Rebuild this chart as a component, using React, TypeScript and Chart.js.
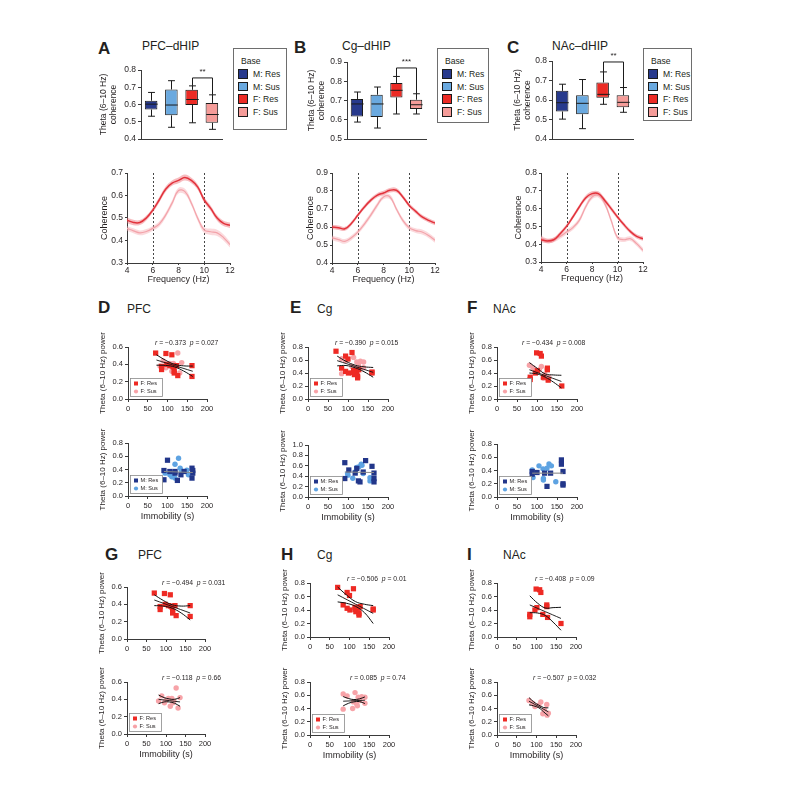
import React, { useEffect, useRef } from 'react';
import { Chart, registerables } from 'chart.js';

Chart.register(...registerables);

const FONT = '"Liberation Sans", Arial, Helvetica, sans-serif';
const TXT = '#231f20';
const AX = '#3a3a3a';

// ===== Groups =====
const groupLabels = ['M: Res', 'M: Sus', 'F: Res', 'F: Sus'];
const groupColors = ['#283a8d', '#6aa9df', '#ec2b25', '#f59c99'];
const pointColors = ['#22368a', '#5ea3e2', '#ee2a24', '#f7a3a8'];

// ===== Box plots: [min, q1, median, q3, max] =====
const boxPFC = [
  [0.532, 0.571, 0.602, 0.622, 0.670],
  [0.468, 0.537, 0.597, 0.687, 0.738],
  [0.494, 0.597, 0.629, 0.685, 0.708],
  [0.456, 0.494, 0.542, 0.609, 0.656],
];
const boxCg = [
  [0.588, 0.617, 0.682, 0.708, 0.744],
  [0.557, 0.614, 0.682, 0.730, 0.770],
  [0.630, 0.716, 0.753, 0.791, 0.825],
  [0.630, 0.656, 0.678, 0.704, 0.735],
];
const boxNAc = [
  [0.502, 0.541, 0.586, 0.647, 0.681],
  [0.453, 0.527, 0.583, 0.625, 0.705],
  [0.578, 0.612, 0.629, 0.690, 0.744],
  [0.537, 0.563, 0.588, 0.625, 0.664],
];
const boxRangePFC = [0.4, 0.8];
const boxRangeCg = [0.5, 0.9];
const boxRangeNAc = [0.4, 0.8];
// significance brackets: [bracket level, left leg end, right leg end, star level]
const sigPFC = [0.754, 0.708, 0.656, 0.788];
const sigCg = [0.869, 0.825, 0.735, 0.900];
const sigNAc = [0.795, 0.744, 0.664, 0.826];
const starsPFC = '**';
const starsCg = '***';
const starsNAc = '**';

// ===== Coherence spectra =====
const freqs = [4, 4.5, 5, 5.5, 6, 6.5, 7, 7.5, 8, 8.5, 9, 9.5, 10, 10.5, 11, 11.5, 12];
const bandEdges = [6, 10];
const cohPFC_FRes = [0.49, 0.48, 0.48, 0.50, 0.535, 0.58, 0.628, 0.655, 0.667, 0.68, 0.667, 0.637, 0.58, 0.543, 0.50, 0.476, 0.468];
const cohPFC_FSus = [0.454, 0.443, 0.434, 0.44, 0.454, 0.473, 0.513, 0.566, 0.622, 0.617, 0.566, 0.498, 0.446, 0.439, 0.434, 0.413, 0.382];
const semPFC_FRes = [0.012, 0.012, 0.011, 0.011, 0.011, 0.012, 0.012, 0.012, 0.013, 0.013, 0.012, 0.012, 0.012, 0.012, 0.012, 0.012, 0.012];
const semPFC_FSus = [0.011, 0.011, 0.011, 0.011, 0.011, 0.012, 0.012, 0.013, 0.013, 0.013, 0.012, 0.012, 0.013, 0.014, 0.014, 0.014, 0.013];
const cohCg_FRes = [0.60, 0.596, 0.59, 0.62, 0.665, 0.71, 0.748, 0.776, 0.789, 0.804, 0.804, 0.767, 0.72, 0.687, 0.656, 0.637, 0.622];
const cohCg_FSus = [0.54, 0.53, 0.52, 0.54, 0.572, 0.615, 0.665, 0.72, 0.767, 0.767, 0.70, 0.637, 0.596, 0.58, 0.572, 0.553, 0.526];
const semCg_FRes = [0.012, 0.012, 0.011, 0.011, 0.011, 0.012, 0.012, 0.012, 0.012, 0.013, 0.013, 0.012, 0.012, 0.012, 0.012, 0.012, 0.012];
const semCg_FSus = [0.013, 0.013, 0.013, 0.013, 0.013, 0.014, 0.014, 0.014, 0.013, 0.013, 0.013, 0.013, 0.013, 0.013, 0.014, 0.014, 0.014];
const cohNAc_FRes = [0.425, 0.418, 0.425, 0.459, 0.50, 0.553, 0.609, 0.66, 0.684, 0.684, 0.646, 0.60, 0.553, 0.51, 0.472, 0.444, 0.431];
const cohNAc_FSus = [0.437, 0.418, 0.425, 0.444, 0.468, 0.493, 0.534, 0.609, 0.665, 0.675, 0.628, 0.534, 0.437, 0.425, 0.431, 0.403, 0.366];
const semNAc_FRes = [0.012, 0.012, 0.012, 0.012, 0.012, 0.012, 0.012, 0.013, 0.013, 0.013, 0.013, 0.013, 0.012, 0.012, 0.012, 0.012, 0.012];
const semNAc_FSus = [0.013, 0.013, 0.013, 0.013, 0.013, 0.013, 0.014, 0.014, 0.014, 0.014, 0.014, 0.014, 0.013, 0.013, 0.013, 0.013, 0.013];

// ===== Scatter: [immobility (s), theta power] =====
const pfcFRes = [[70, 0.53], [96, 0.525], [111, 0.51], [85, 0.375], [85, 0.34], [98, 0.40], [106, 0.385], [112, 0.38], [115, 0.37], [117, 0.32], [117, 0.30], [123, 0.385], [126, 0.27], [162, 0.385], [162, 0.26]];
const pfcFSus = [[81, 0.38], [89, 0.44], [96, 0.36], [100, 0.39], [106, 0.41], [111, 0.32], [115, 0.41], [118, 0.36], [120, 0.38], [126, 0.53], [131, 0.30], [136, 0.42]];
const cgFRes = [[70, 0.735], [94, 0.66], [100, 0.615], [110, 0.715], [84, 0.475], [94, 0.425], [101, 0.40], [114, 0.44], [116, 0.375], [122, 0.425], [124, 0.325], [127, 0.45], [160, 0.415], [160, 0.40], [114, 0.41], [124, 0.35]];
const cgFSus = [[84, 0.62], [94, 0.59], [114, 0.64], [122, 0.57], [131, 0.58], [139, 0.57], [139, 0.48], [126, 0.52], [110, 0.50], [118, 0.47], [84, 0.39], [108, 0.40], [120, 0.44]];
const nacFRes = [[99, 0.71], [108, 0.70], [111, 0.66], [83, 0.335], [83, 0.30], [96, 0.40], [101, 0.435], [116, 0.335], [126, 0.475], [126, 0.45], [128, 0.29], [162, 0.20]];
const nacFSus = [[81, 0.52], [90, 0.48], [96, 0.43], [106, 0.45], [111, 0.50], [116, 0.32], [120, 0.38], [126, 0.46], [127, 0.30], [130, 0.33]];
const pfcMRes = [[91, 0.385], [91, 0.245], [100, 0.54], [106, 0.37], [119, 0.345], [119, 0.37], [125, 0.235], [134, 0.32], [142, 0.37], [162, 0.42], [162, 0.27], [164, 0.345], [164, 0.385]];
const pfcMSus = [[94, 0.345], [106, 0.32], [111, 0.29], [115, 0.345], [119, 0.48], [119, 0.27], [128, 0.57], [132, 0.42], [136, 0.38], [149, 0.39], [153, 0.32]];
const cgMRes = [[92, 0.66], [92, 0.355], [102, 0.52], [118, 0.46], [122, 0.55], [126, 0.31], [130, 0.29], [138, 0.48], [144, 0.70], [160, 0.59], [165, 0.46], [165, 0.355], [165, 0.29]];
const cgMSus = [[99, 0.45], [100, 0.42], [112, 0.36], [118, 0.48], [122, 0.57], [127, 0.58], [133, 0.63], [135, 0.61], [138, 0.45], [155, 0.37], [155, 0.31]];
const nacMRes = [[88, 0.385], [88, 0.345], [100, 0.37], [119, 0.36], [125, 0.16], [134, 0.36], [161, 0.56], [161, 0.495], [165, 0.385], [165, 0.20], [165, 0.18]];
const nacMSus = [[88, 0.41], [90, 0.295], [105, 0.47], [115, 0.425], [116, 0.28], [116, 0.255], [125, 0.435], [130, 0.50], [136, 0.47], [147, 0.23]];

// regression lines (mid) and 95% confidence curves (up / lo)
const fitD_mid = [[72, 0.45], [164, 0.32]];
const fitD_up = [[72, 0.51], [95, 0.4475], [118, 0.40], [141, 0.3825], [164, 0.38]];
const fitD_lo = [[72, 0.39], [95, 0.3875], [118, 0.37], [141, 0.3225], [164, 0.26]];
const fitE_mid = [[73, 0.59], [163, 0.41]];
const fitE_up = [[73, 0.66], [95, 0.58], [118, 0.52], [140, 0.495], [163, 0.485]];
const fitE_lo = [[73, 0.51], [95, 0.515], [118, 0.48], [140, 0.42], [163, 0.335]];
const fitF_mid = [[81, 0.45], [161, 0.27]];
const fitF_up = [[81, 0.56], [101, 0.47], [121, 0.385], [141, 0.37], [161, 0.365]];
const fitF_lo = [[81, 0.40], [101, 0.385], [121, 0.335], [141, 0.26], [161, 0.17]];
const fitGt_mid = [[70, 0.45], [162, 0.30]];
const fitGt_up = [[70, 0.51], [93, 0.445], [116, 0.395], [139, 0.38], [162, 0.385]];
const fitGt_lo = [[70, 0.385], [93, 0.38], [116, 0.355], [139, 0.30], [162, 0.22]];
const fitHt_mid = [[70, 0.625], [160, 0.35]];
const fitHt_up = [[70, 0.74], [92, 0.625], [115, 0.525], [138, 0.485], [160, 0.465]];
const fitHt_lo = [[70, 0.52], [92, 0.50], [115, 0.455], [138, 0.36], [160, 0.20]];
const fitIt_mid = [[83, 0.475], [162, 0.275]];
const fitIt_up = [[83, 0.61], [103, 0.50], [122, 0.43], [142, 0.435], [162, 0.44]];
const fitIt_lo = [[83, 0.36], [103, 0.355], [122, 0.32], [142, 0.22], [162, 0.10]];
const fitGb_mid = [[81, 0.40], [136, 0.37]];
const fitGb_up = [[81, 0.45], [95, 0.42], [108, 0.405], [122, 0.40], [136, 0.42]];
const fitGb_lo = [[81, 0.35], [95, 0.37], [108, 0.37], [122, 0.355], [136, 0.32]];
const fitHb_mid = [[84, 0.51], [139, 0.525]];
const fitHb_up = [[84, 0.58], [98, 0.55], [111, 0.535], [125, 0.545], [139, 0.575]];
const fitHb_lo = [[84, 0.44], [98, 0.48], [111, 0.50], [125, 0.505], [139, 0.475]];
const fitIb_mid = [[81, 0.51], [130, 0.35]];
const fitIb_up = [[81, 0.565], [93, 0.50], [106, 0.45], [118, 0.415], [130, 0.41]];
const fitIb_lo = [[81, 0.455], [93, 0.44], [106, 0.41], [118, 0.35], [130, 0.29]];
const maleLinePFC = [[91, 0.37], [164, 0.355]];
const maleLineCg = [[92, 0.48], [165, 0.47]];
const maleLineNAc = [[88, 0.36], [165, 0.36]];

// r / p statistics
const statD = ['\u22120.373', '0.027'];
const statE = ['\u22120.390', '0.015'];
const statF = ['\u22120.434', '0.008'];
const statGt = ['\u22120.494', '0.031'];
const statGb = ['\u22120.118', '0.66'];
const statHt = ['\u22120.506', '0.01'];
const statHb = ['0.085', '0.74'];
const statIt = ['\u22120.408', '0.09'];
const statIb = ['\u22120.507', '0.032'];

// ===== helpers =====
type Frame = { x0: number; x1: number; y0: number; y1: number; L: number; T: number; R: number; B: number };

function canvasBox(f: Frame) {
  return { left: f.x0 - f.L, top: f.y0 - f.T, width: f.x1 - f.x0 + f.L + f.R, height: f.y1 - f.y0 + f.T + f.B };
}

function baseOptions(f: Frame) {
  return {
    responsive: false,
    animation: false,
    events: [],
    devicePixelRatio: 1,
    layout: { padding: { left: 0, top: f.T, right: f.R, bottom: 0 } },
    plugins: { legend: { display: false }, tooltip: { enabled: false }, title: { display: false } },
  };
}

function yLinear(f: Frame, min: number, max: number, step: number, title: any, o: any) {
  return {
    type: 'linear', position: 'left', min, max,
    afterFit: (s: any) => { s.width = f.L; },
    ticks: { stepSize: step, autoSkip: false, font: { family: FONT, size: o.tick }, color: TXT, padding: o.pad ?? 2, callback: (v: any) => Number(v).toFixed(1) },
    grid: { display: true, drawOnChartArea: false, drawTicks: true, tickLength: o.tickLen, color: AX, lineWidth: 1 },
    border: { display: true, color: AX, width: 1 },
    title: { display: !!title, text: title, color: TXT, padding: 0, font: { family: FONT, size: o.title, lineHeight: o.lh ?? 1.2 } },
  };
}

function xLinear(f: Frame, min: number, max: number, step: number, title: string | null, o: any) {
  return {
    type: 'linear', position: 'bottom', min, max,
    afterFit: (s: any) => { s.height = f.B; },
    ticks: { stepSize: step, autoSkip: false, maxRotation: 0, font: { family: FONT, size: o.tick }, color: TXT, padding: o.pad ?? 2, callback: (v: any) => String(v) },
    grid: { display: true, drawOnChartArea: false, drawTicks: true, tickLength: o.tickLen, color: AX, lineWidth: 1 },
    border: { display: true, color: AX, width: 1 },
    title: { display: !!title, text: title || '', color: TXT, padding: 0, font: { family: FONT, size: o.title, lineHeight: 1.2 } },
  };
}

function boxPlugin(stats: number[][], sig: number[], stars: string) {
  return {
    id: 'boxWhisk',
    afterDatasetsDraw(chart: any) {
      const { ctx } = chart;
      const ys = chart.scales.y;
      const meta = chart.getDatasetMeta(0);
      const line = (a: number, b: number, c: number, d: number) => { ctx.beginPath(); ctx.moveTo(a, b); ctx.lineTo(c, d); ctx.stroke(); };
      ctx.save();
      ctx.strokeStyle = '#1b1b1b';
      ctx.lineWidth = 1;
      stats.forEach((s, i) => {
        const bar = meta.data[i];
        const cx = Math.round(bar.x) + 0.5;
        const hw = bar.width / 2;
        const cap = hw * 0.55;
        const [mn, q1, md, q3, mx] = s.map((v) => ys.getPixelForValue(v));
        line(cx, q3, cx, mx); line(cx - cap, mx, cx + cap, mx);
        line(cx, q1, cx, mn); line(cx - cap, mn, cx + cap, mn);
        line(cx - hw, md, cx + hw, md);
      });
      const x1 = Math.round(meta.data[2].x) + 0.5;
      const x2 = Math.round(meta.data[3].x) + 0.5;
      const yb = ys.getPixelForValue(sig[0]);
      ctx.beginPath();
      ctx.moveTo(x1, ys.getPixelForValue(sig[1]));
      ctx.lineTo(x1, yb);
      ctx.lineTo(x2, yb);
      ctx.lineTo(x2, ys.getPixelForValue(sig[2]));
      ctx.stroke();
      ctx.fillStyle = TXT;
      ctx.font = `8px ${FONT}`;
      ctx.textAlign = 'center';
      ctx.textBaseline = 'middle';
      ctx.fillText(stars, (x1 + x2) / 2, ys.getPixelForValue(sig[3]));
      ctx.restore();
    },
  };
}

function boxConfig(f: Frame, stats: number[][], range: number[], sig: number[], stars: string) {
  return {
    type: 'bar',
    data: {
      labels: groupLabels,
      datasets: [{
        data: stats.map((s) => [s[1], s[3]]),
        backgroundColor: groupColors,
        borderColor: '#1b1b1b',
        borderWidth: 1,
        borderSkipped: false,
        barPercentage: 0.62,
        categoryPercentage: 1,
      }],
    },
    options: {
      ...baseOptions(f),
      scales: {
        x: { type: 'category', afterFit: (s: any) => { s.height = f.B; }, ticks: { display: false }, grid: { display: false }, border: { display: true, color: AX, width: 1 } },
        y: yLinear(f, range[0], range[1], 0.1, ['Theta (6\u201310 Hz)', 'coherence'], { tick: 8.5, tickLen: 3, title: 8.5, lh: 1.15 }),
      },
    },
    plugins: [boxPlugin(stats, sig, stars)],
  };
}

const vlinePlugin = {
  id: 'vlines',
  beforeDatasetsDraw(chart: any) {
    const { ctx, chartArea: a } = chart;
    const x = chart.scales.x;
    ctx.save();
    ctx.setLineDash([2, 2]);
    ctx.strokeStyle = '#333';
    ctx.lineWidth = 0.9;
    bandEdges.forEach((fr) => {
      const px = Math.round(x.getPixelForValue(fr)) + 0.5;
      ctx.beginPath(); ctx.moveTo(px, a.top); ctx.lineTo(px, a.bottom); ctx.stroke();
    });
    ctx.restore();
  },
};

function cohConfig(f: Frame, range: number[], dark: number[], light: number[], semD: number[], semL: number[]) {
  const pts = (arr: number[]) => freqs.map((x, i) => ({ x, y: arr[i] }));
  const up = (arr: number[], s: number[]) => freqs.map((x, i) => ({ x, y: arr[i] + s[i] }));
  const lo = (arr: number[], s: number[]) => freqs.map((x, i) => ({ x, y: arr[i] - s[i] }));
  const common = { pointRadius: 0, tension: 0.4 };
  return {
    type: 'line',
    data: {
      datasets: [
        { data: pts(dark), borderColor: '#e2323b', borderWidth: 1.5, fill: false, ...common },
        { data: pts(light), borderColor: '#f3a3aa', borderWidth: 1.2, fill: false, ...common },
        { data: up(dark, semD), borderColor: 'rgba(0,0,0,0)', borderWidth: 0, fill: false, ...common },
        { data: lo(dark, semD), borderColor: 'rgba(0,0,0,0)', borderWidth: 0, backgroundColor: 'rgba(236,96,106,0.42)', fill: '-1', ...common },
        { data: up(light, semL), borderColor: 'rgba(0,0,0,0)', borderWidth: 0, fill: false, ...common },
        { data: lo(light, semL), borderColor: 'rgba(0,0,0,0)', borderWidth: 0, backgroundColor: 'rgba(247,172,180,0.45)', fill: '-1', ...common },
      ],
    },
    options: {
      ...baseOptions(f),
      scales: {
        x: xLinear(f, 4, 12, 2, 'Frequency (Hz)', { tick: 8.5, tickLen: 2, title: 9, pad: 1 }),
        y: yLinear(f, range[0], range[1], 0.1, 'Coherence', { tick: 8.5, tickLen: 2, title: 9 }),
      },
    },
    plugins: [vlinePlugin],
  };
}

function statPlugin(stat: string[] | null, dx: number) {
  return {
    id: 'stat',
    afterDraw(chart: any) {
      if (!stat) return;
      const { ctx, chartArea: a } = chart;
      ctx.save();
      ctx.fillStyle = TXT;
      ctx.textBaseline = 'middle';
      let x = a.left + dx;
      const y = a.top - 4;
      const parts: [string, boolean][] = [['r', true], [` = ${stat[0]}  `, false], ['p', true], [` = ${stat[1]}`, false]];
      parts.forEach(([t, it]) => {
        ctx.font = `${it ? 'italic ' : ''}6.8px ${FONT}`;
        ctx.fillText(t, x, y);
        x += ctx.measureText(t).width;
      });
      ctx.restore();
    },
  };
}

function legendPlugin(items: number[] | null) {
  return {
    id: 'miniLegend',
    afterDraw(chart: any) {
      if (!items) return;
      const { ctx, chartArea: a } = chart;
      const w = 32, h = 18;
      const x = Math.round(a.left + 2) + 0.5, y = Math.round(a.bottom - h - 3) + 0.5;
      ctx.save();
      ctx.fillStyle = '#fff';
      ctx.fillRect(x, y, w, h);
      ctx.strokeStyle = '#8a8a8a';
      ctx.lineWidth = 0.8;
      ctx.strokeRect(x, y, w, h);
      items.forEach((g, k) => {
        const cy = y + 5 + k * 8;
        ctx.fillStyle = pointColors[g];
        if (g % 2 === 0) ctx.fillRect(x + 3.5, cy - 2, 4, 4);
        else { ctx.beginPath(); ctx.arc(x + 5.5, cy, 2.1, 0, Math.PI * 2); ctx.fill(); }
        ctx.fillStyle = TXT;
        ctx.font = `5.6px ${FONT}`;
        ctx.textBaseline = 'middle';
        ctx.fillText(groupLabels[g], x + 10, cy + 0.3);
      });
      ctx.restore();
    },
  };
}

type ScatterSpec = {
  ymax: number;
  series: [number[][], number][];
  fit?: number[][][];
  gray?: number[][];
  legend: number[] | null;
  stat: string[] | null;
  statDx: number;
  xTitle: boolean;
};

function scatterConfig(f: Frame, s: ScatterSpec) {
  const toXY = (arr: number[][]) => arr.map(([x, y]) => ({ x, y }));
  const lineDs: any[] = [];
  if (s.fit) {
    s.fit.forEach((curve, k) => {
      lineDs.push({ data: toXY(curve), showLine: true, pointRadius: 0, borderColor: '#111', borderWidth: k === 0 ? 0.9 : 1.0, tension: 0.4, fill: false });
    });
  }
  if (s.gray) {
    lineDs.push({ data: toXY(s.gray), showLine: true, pointRadius: 0, borderColor: '#8c8c8c', borderWidth: 1.1, fill: false });
  }
  const pointDs = s.series.map(([pts, g]) => ({
    data: toXY(pts),
    pointStyle: g % 2 === 0 ? 'rect' : 'circle',
    pointRadius: g % 2 === 0 ? 3.7 : 2.7,
    backgroundColor: pointColors[g],
    borderWidth: 0,
    showLine: false,
  }));
  return {
    type: 'scatter',
    data: { datasets: [...lineDs, ...pointDs] },
    options: {
      ...baseOptions(f),
      scales: {
        x: xLinear(f, 0, 200, 50, s.xTitle ? 'Immobility (s)' : null, { tick: 7.5, tickLen: 3, title: 9, pad: 2 }),
        y: yLinear(f, 0, s.ymax, 0.2, 'Theta (6\u201310 Hz) power', { tick: 7.5, tickLen: 3, title: 8 }),
      },
    },
    plugins: [statPlugin(s.stat, s.statDx), legendPlugin(s.legend)],
  };
}

function ChartCanvas({ frame, make }: { frame: Frame; make: () => any }) {
  const ref = useRef<HTMLCanvasElement>(null);
  const b = canvasBox(frame);
  useEffect(() => {
    const chart = new Chart(ref.current as HTMLCanvasElement, make());
    return () => chart.destroy();
  }, []);
  return (
    <canvas
      ref={ref}
      width={b.width}
      height={b.height}
      style={{ position: 'absolute', left: b.left, top: b.top, width: b.width, height: b.height }}
    />
  );
}

function Text({ x, baseline, size, bold, children }: { x: number; baseline: number; size: number; bold?: boolean; children: any }) {
  return (
    <div
      style={{
        position: 'absolute', left: x, top: baseline - 0.8465 * size, fontSize: size, lineHeight: `${size}px`,
        fontWeight: bold ? 700 : 400, fontFamily: FONT, color: TXT, whiteSpace: 'nowrap',
      }}
    >
      {children}
    </div>
  );
}

function BoxLegend({ left, top, width, height }: { left: number; top: number; width: number; height: number }) {
  const rowY = [25, 37.5, 50, 63];
  return (
    <div style={{ position: 'absolute', left, top, width, height, border: '1px solid #6e6e6e', boxSizing: 'border-box', background: '#fff', fontFamily: FONT, fontSize: 8.6, color: TXT }}>
      <div style={{ position: 'absolute', left: 7, top: 12 - 5, lineHeight: '10px', whiteSpace: 'nowrap' }}>Base</div>
      {groupLabels.map((g, i) => (
        <React.Fragment key={g}>
          <div style={{ position: 'absolute', left: 4, top: rowY[i] - 5, width: 10, height: 9.5, boxSizing: 'border-box', border: '1px solid #1b1b1b', background: groupColors[i] }} />
          <div style={{ position: 'absolute', left: 19, top: rowY[i] - 5, lineHeight: '10px', whiteSpace: 'nowrap' }}>{g}</div>
        </React.Fragment>
      ))}
    </div>
  );
}

// ===== frames (plot areas in page px) =====
const fBoxA: Frame = { x0: 141, x1: 222, y0: 70, y1: 139, L: 42, T: 30, R: 4, B: 8 };
const fBoxB: Frame = { x0: 347, x1: 426, y0: 62, y1: 139, L: 40, T: 30, R: 4, B: 8 };
const fBoxC: Frame = { x0: 552, x1: 633, y0: 61, y1: 139, L: 39, T: 30, R: 4, B: 8 };
const fLineA: Frame = { x0: 127, x1: 230, y0: 173, y1: 263, L: 28, T: 10, R: 10, B: 22 };
const fLineB: Frame = { x0: 332, x1: 435, y0: 173, y1: 263, L: 27, T: 10, R: 10, B: 22 };
const fLineC: Frame = { x0: 541, x1: 643, y0: 173, y1: 262, L: 28, T: 10, R: 10, B: 22 };
const sc = (x0: number, x1: number, y0: number, y1: number, title: boolean): Frame => ({ x0, x1, y0, y1, L: 30, T: 26, R: 30, B: title ? 26 : 30 });
const fDt = sc(128, 207, 347, 399, false);
const fDb = sc(128, 207, 443, 496, true);
const fEt = sc(308, 388, 347, 399, false);
const fEb = sc(308, 388, 445, 497, true);
const fFt = sc(497, 577, 347, 399, false);
const fFb = sc(497, 577, 444, 497, true);
const fGt = sc(127, 205, 587, 639, false);
const fGb = sc(127, 205, 682, 734, true);
const fHt = sc(310, 389, 583, 637, false);
const fHb = sc(310, 389, 682, 735, true);
const fIt = sc(497, 576, 583, 637, false);
const fIb = sc(497, 576, 682, 735, true);

export default function App() {
  return (
    <div style={{ position: 'absolute', left: 0, top: 0, width: 791, height: 792, background: '#fff', overflow: 'hidden' }}>
      <Text x={98} baseline={54} size={17} bold>A</Text>
      <Text x={142} baseline={50} size={12}>PFC–dHIP</Text>
      <Text x={294} baseline={53} size={17} bold>B</Text>
      <Text x={342} baseline={50} size={12}>Cg–dHIP</Text>
      <Text x={507} baseline={53} size={17} bold>C</Text>
      <Text x={552} baseline={50} size={12}>NAc–dHIP</Text>

      <Text x={98} baseline={313} size={17} bold>D</Text>
      <Text x={127} baseline={313} size={12}>PFC</Text>
      <Text x={290} baseline={313} size={17} bold>E</Text>
      <Text x={317} baseline={313} size={12}>Cg</Text>
      <Text x={467} baseline={313} size={17} bold>F</Text>
      <Text x={493} baseline={313} size={12}>NAc</Text>

      <Text x={105} baseline={560} size={17} bold>G</Text>
      <Text x={138} baseline={559} size={12}>PFC</Text>
      <Text x={281} baseline={560} size={17} bold>H</Text>
      <Text x={317} baseline={559} size={12}>Cg</Text>
      <Text x={467} baseline={560} size={17} bold>I</Text>
      <Text x={503} baseline={559} size={12}>NAc</Text>

      <ChartCanvas frame={fBoxA} make={() => boxConfig(fBoxA, boxPFC, boxRangePFC, sigPFC, starsPFC)} />
      <ChartCanvas frame={fBoxB} make={() => boxConfig(fBoxB, boxCg, boxRangeCg, sigCg, starsCg)} />
      <ChartCanvas frame={fBoxC} make={() => boxConfig(fBoxC, boxNAc, boxRangeNAc, sigNAc, starsNAc)} />
      <BoxLegend left={233} top={48} width={54} height={82} />
      <BoxLegend left={437} top={48} width={52} height={75} />
      <BoxLegend left={643} top={48} width={49} height={73} />

      <ChartCanvas frame={fLineA} make={() => cohConfig(fLineA, [0.3, 0.7], cohPFC_FRes, cohPFC_FSus, semPFC_FRes, semPFC_FSus)} />
      <ChartCanvas frame={fLineB} make={() => cohConfig(fLineB, [0.4, 0.9], cohCg_FRes, cohCg_FSus, semCg_FRes, semCg_FSus)} />
      <ChartCanvas frame={fLineC} make={() => cohConfig(fLineC, [0.3, 0.8], cohNAc_FRes, cohNAc_FSus, semNAc_FRes, semNAc_FSus)} />

      <ChartCanvas frame={fDt} make={() => scatterConfig(fDt, { ymax: 0.6, series: [[pfcFRes, 2], [pfcFSus, 3]], fit: [fitD_mid, fitD_up, fitD_lo], legend: [2, 3], stat: statD, statDx: 27, xTitle: false })} />
      <ChartCanvas frame={fDb} make={() => scatterConfig(fDb, { ymax: 0.8, series: [[pfcMRes, 0], [pfcMSus, 1]], gray: maleLinePFC, legend: [0, 1], stat: null, statDx: 0, xTitle: true })} />
      <ChartCanvas frame={fEt} make={() => scatterConfig(fEt, { ymax: 0.8, series: [[cgFRes, 2], [cgFSus, 3]], fit: [fitE_mid, fitE_up, fitE_lo], legend: [2, 3], stat: statE, statDx: 27, xTitle: false })} />
      <ChartCanvas frame={fEb} make={() => scatterConfig(fEb, { ymax: 1.0, series: [[cgMRes, 0], [cgMSus, 1]], gray: maleLineCg, legend: [0, 1], stat: null, statDx: 0, xTitle: true })} />
      <ChartCanvas frame={fFt} make={() => scatterConfig(fFt, { ymax: 0.8, series: [[nacFRes, 2], [nacFSus, 3]], fit: [fitF_mid, fitF_up, fitF_lo], legend: [2, 3], stat: statF, statDx: 25, xTitle: false })} />
      <ChartCanvas frame={fFb} make={() => scatterConfig(fFb, { ymax: 0.8, series: [[nacMRes, 0], [nacMSus, 1]], gray: maleLineNAc, legend: [0, 1], stat: null, statDx: 0, xTitle: true })} />

      <ChartCanvas frame={fGt} make={() => scatterConfig(fGt, { ymax: 0.6, series: [[pfcFRes, 2]], fit: [fitGt_mid, fitGt_up, fitGt_lo], legend: null, stat: statGt, statDx: 35, xTitle: false })} />
      <ChartCanvas frame={fGb} make={() => scatterConfig(fGb, { ymax: 0.6, series: [[pfcFSus, 3]], fit: [fitGb_mid, fitGb_up, fitGb_lo], legend: [2, 3], stat: statGb, statDx: 35, xTitle: true })} />
      <ChartCanvas frame={fHt} make={() => scatterConfig(fHt, { ymax: 0.8, series: [[cgFRes, 2]], fit: [fitHt_mid, fitHt_up, fitHt_lo], legend: null, stat: statHt, statDx: 37, xTitle: false })} />
      <ChartCanvas frame={fHb} make={() => scatterConfig(fHb, { ymax: 0.8, series: [[cgFSus, 3]], fit: [fitHb_mid, fitHb_up, fitHb_lo], legend: [2, 3], stat: statHb, statDx: 40, xTitle: true })} />
      <ChartCanvas frame={fIt} make={() => scatterConfig(fIt, { ymax: 0.8, series: [[nacFRes, 2]], fit: [fitIt_mid, fitIt_up, fitIt_lo], legend: null, stat: statIt, statDx: 38, xTitle: false })} />
      <ChartCanvas frame={fIb} make={() => scatterConfig(fIb, { ymax: 0.8, series: [[nacFSus, 3]], fit: [fitIb_mid, fitIb_up, fitIb_lo], legend: [2, 3], stat: statIb, statDx: 36, xTitle: true })} />
    </div>
  );
}
